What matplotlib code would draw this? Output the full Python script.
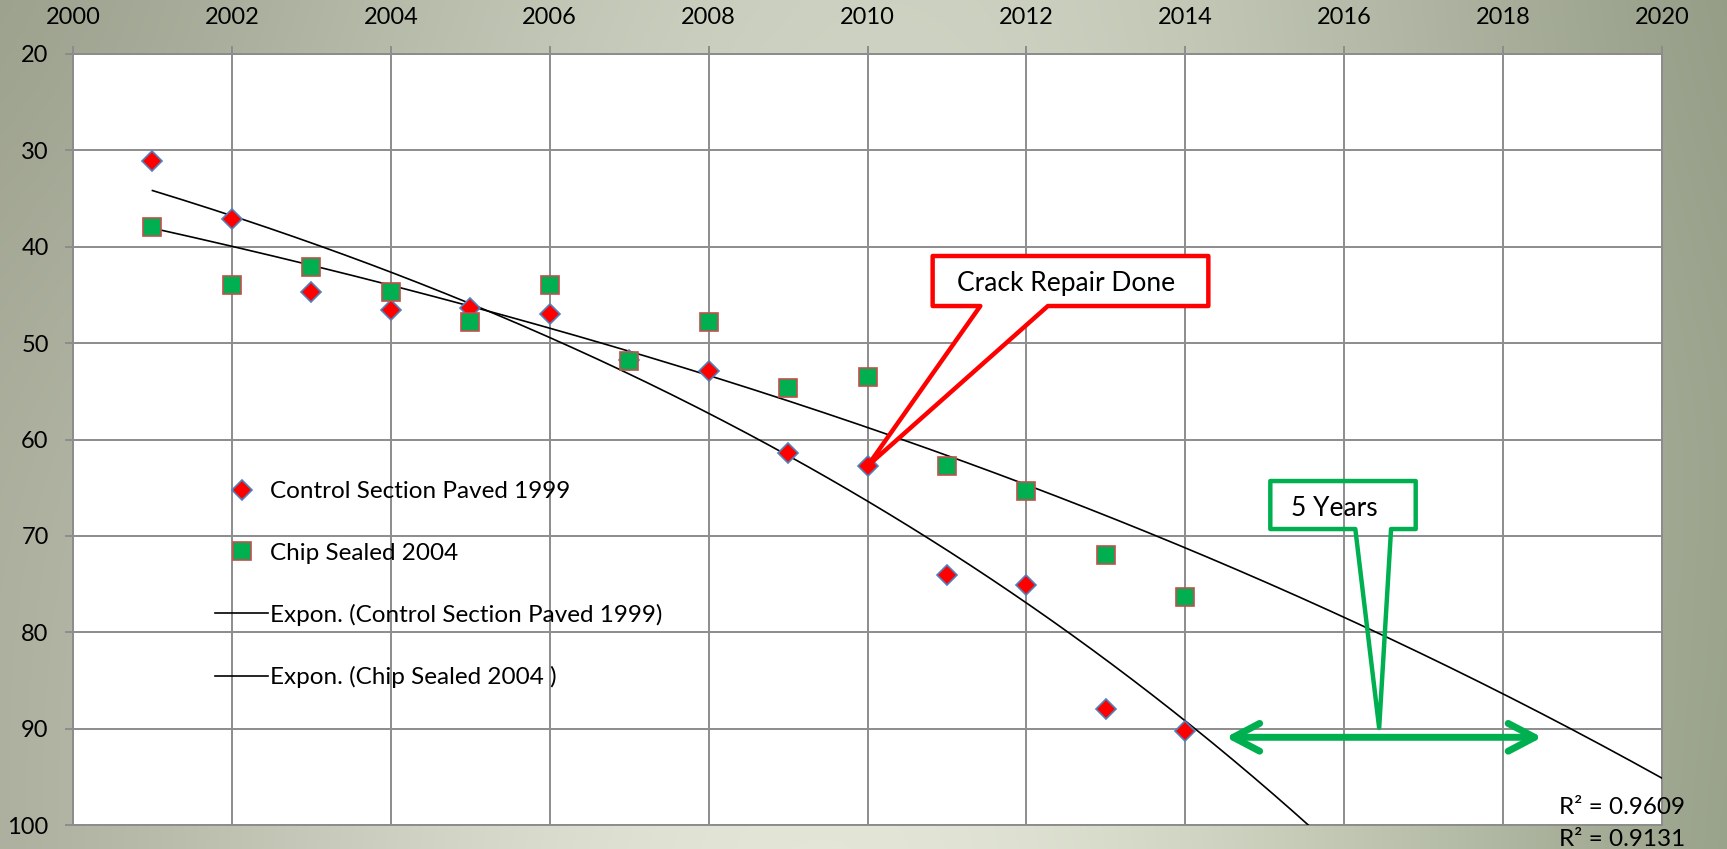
import numpy as np
import matplotlib
matplotlib.use("Agg")
import matplotlib.pyplot as plt
from matplotlib.patches import Polygon

plt.rcParams['font.family'] = ['Lato', 'DejaVu Sans']

# ---------------- data ----------------
years = [2001, 2002, 2003, 2004, 2005, 2006, 2007, 2008, 2009, 2010, 2011, 2012, 2013, 2014]
control = [31.1, 37.1, 44.7, 46.6, 46.4, 47.0, 51.8, 52.9, 61.4, 62.7, 74.1, 75.1, 88.0, 90.2]
chip = [38.0, 44.0, 42.1, 44.7, 47.8, 44.0, 51.9, 47.8, 54.7, 53.5, 62.7, 65.3, 72.0, 76.3]
control_label = "Control Section Paved 1999"
chip_label = "Chip Sealed 2004"
trend_control_label = "Expon. (Control Section Paved 1999)"
trend_chip_label = "Expon. (Chip Sealed 2004 )"
r2_texts = ["R\u00b2 = 0.9609", "R\u00b2 = 0.9131"]
x_ticks = list(range(2000, 2021, 2))
y_ticks = list(range(20, 101, 10))
forecast_end = 2020

W, H = 1727, 849
fig = plt.figure(figsize=(W / 100, H / 100), dpi=100)

# ---------------- background gradient ----------------
bg = np.array([
    [(165, 168, 150), (215, 218, 202), (238, 240, 227), (205, 210, 190), (142, 152, 128)],
    [(168, 171, 152), (202, 205, 190), (228, 231, 216), (195, 200, 182), (152, 160, 138)],
    [(148, 154, 134), (182, 187, 170), (210, 214, 198), (190, 195, 178), (140, 148, 125)],
], dtype=float) / 255.0
bax = fig.add_axes([0, 0, 1, 1], zorder=-10)
bax.imshow(bg, extent=(-0.125, 1.125, -0.25, 1.25), interpolation='bicubic', aspect='auto')
bax.set_xlim(0, 1)
bax.set_ylim(1, 0)
bax.axis('off')

# ---------------- main axes ----------------
L, R, T, B = 73, 1662, 54, 825
ax = fig.add_axes([L / W, 1 - B / H, (R - L) / W, (B - T) / H])
ax.set_facecolor('white')
ax.set_xlim(2000, 2020)
ax.set_ylim(100, 20)
ax.set_xticks(x_ticks)
ax.set_yticks(y_ticks)
ax.xaxis.tick_top()
grid_c = '#8c8c8c'
ax.grid(True, color=grid_c, lw=1.4)
ax.set_axisbelow(True)
for s in ax.spines.values():
    s.set_color(grid_c)
    s.set_linewidth(1.4)
ax.tick_params(axis='x', which='both', length=5.5, width=1.4, color=grid_c, pad=13, labelsize=17)
ax.tick_params(axis='y', which='both', length=5.5, width=1.4, color=grid_c, pad=12, labelsize=17)

# exponential trend lines (Excel-style fit on log values)
xs = np.array(years, dtype=float)
def expfit(vals):
    b, a = np.polyfit(xs - 2000, np.log(vals), 1)
    xx = np.linspace(xs[0], forecast_end, 300)
    return xx, np.exp(a + b * (xx - 2000))

xc, yc = expfit(control)
xg, yg = expfit(chip)
l3, = ax.plot(xc, yc, color='black', lw=1.2, zorder=3, label=trend_control_label)
l4, = ax.plot(xg, yg, color='black', lw=1.2, zorder=3, label=trend_chip_label)

l1, = ax.plot(years, control, ls='none', marker='D', ms=9.8, mfc='#ff0000', mec='#4f81bd',
              mew=1.2, zorder=4, label=control_label)
l2, = ax.plot(years, chip, ls='none', marker='s', ms=13.5, mfc='#00b050', mec='#c0504d',
              mew=1.2, zorder=5, label=chip_label)

leg = ax.legend(handles=[l1, l2, l3, l4], loc='upper left',
                bbox_to_anchor=(203 / W, 1 - 469 / H), bbox_transform=fig.transFigure,
                frameon=False, borderpad=0, handlelength=2.17, handletextpad=0.1,
                labelspacing=1.66, fontsize=17.5, numpoints=1)

# ---------------- callouts ----------------
red_callout = [(2010.82, 40.96), (2014.29, 40.96), (2014.29, 46.15), (2012.27, 46.15),
               (2010.0, 62.75), (2011.42, 46.15), (2010.82, 46.15)]
ax.add_patch(Polygon(red_callout, closed=True, facecolor='white', edgecolor='#ff0000',
                     lw=3.2, joinstyle='round', zorder=6))
ax.text(2012.5, 43.8, "Crack Repair Done", ha='center', va='center', fontsize=19, zorder=7)

green_callout = [(2015.07, 64.31), (2016.90, 64.31), (2016.90, 69.29), (2016.59, 69.29),
                 (2016.44, 89.93), (2016.14, 69.29), (2015.07, 69.29)]
ax.add_patch(Polygon(green_callout, closed=True, facecolor='none', edgecolor='#00b050',
                     lw=3.2, joinstyle='round', zorder=6))
ax.text(2015.33, 67.2, "5 Years", ha='left', va='center', fontsize=19, zorder=7)

ax.annotate('', xy=(2014.51, 90.9), xytext=(2018.49, 90.9),
            arrowprops=dict(arrowstyle='<->,head_length=0.95,head_width=0.5', color='#00b050',
                            lw=5, mutation_scale=20, capstyle='round', joinstyle='round',
                            shrinkA=0, shrinkB=0), zorder=6)

# R² texts
fig.text(1685 / W, 1 - 808 / H, r2_texts[0], ha='right', va='center', fontsize=17.5)
fig.text(1685 / W, 1 - 839 / H, r2_texts[1], ha='right', va='center', fontsize=17.5)

fig.savefig('out.png', dpi=100)
